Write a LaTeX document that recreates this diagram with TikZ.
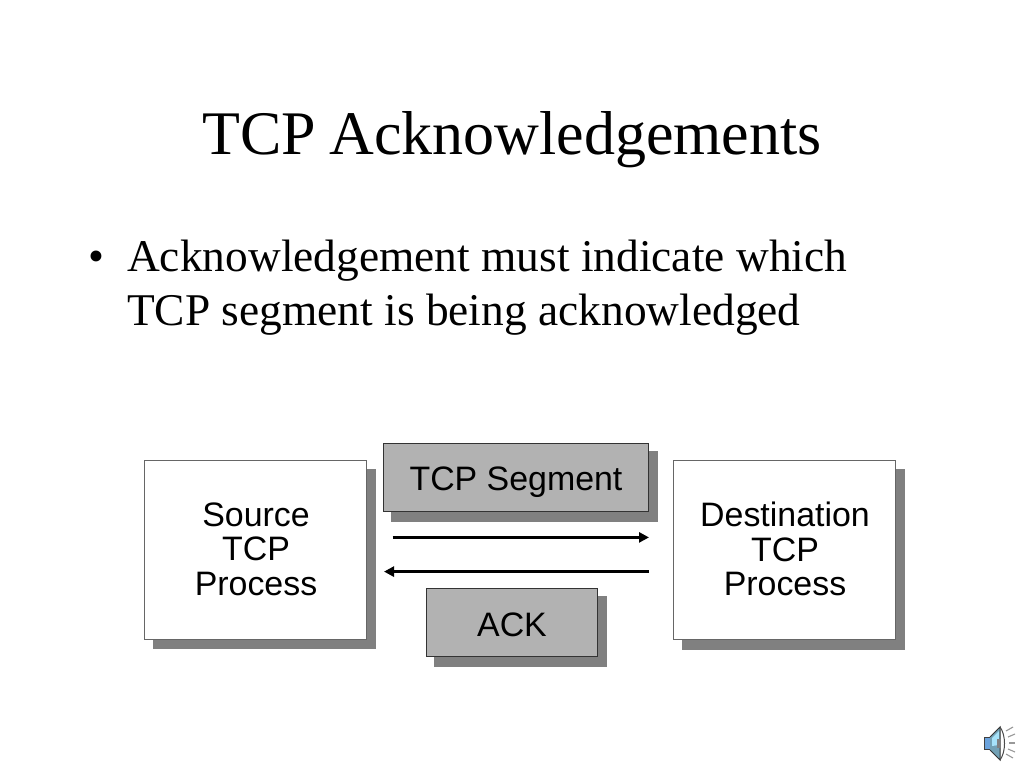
\documentclass[tikz,border=0pt]{standalone}
\usepackage{fontspec}
\setmainfont{Liberation Serif}
\newfontfamily\boxfont{Liberation Sans}
\usetikzlibrary{arrows.meta}
\definecolor{shadowgrey}{HTML}{808080}
\definecolor{fillgrey}{HTML}{B2B2B2}
\definecolor{edgegrey}{HTML}{333333}
\tikzset{
  x=1pt,y=-1pt,
  titletext/.style={anchor=base west,inner sep=0pt,font=\fontsize{62}{62}\selectfont},
  bodytext/.style={anchor=base west,inner sep=0pt,font=\fontsize{45.4}{45.4}\selectfont},
  boxlabel/.style={align=center,inner sep=0pt,font=\boxfont\fontsize{33.9}{34.5}\selectfont},
  proc/.style={draw=black!60,line width=1pt,fill=white},
  grey/.style={draw=edgegrey,line width=1pt,fill=fillgrey},
  shade/.style={fill=shadowgrey,draw=none},
  flow/.style={line width=3.2pt,-{Triangle[length=10pt,width=10pt]}},
}
\begin{document}
\begin{tikzpicture}
\useasboundingbox (0,0) rectangle (1024,768);
\fill[white] (0,0) rectangle (1024,768);
\node[titletext] (title) at (202,154.5) {TCP\hspace{-2pt} Acknowledgements};
\node[bodytext] (bullet) at (88,271) {•};
\node[bodytext] (l1) at (127,271) {Acknowledgement must indicate which};
\node[bodytext] (l2) at (127,325) {TCP segment is being acknowledged};
% shadows
\fill[shade] (153,469) rectangle (376,649);
\fill[shade] (682,469) rectangle (905,650);
\fill[shade] (391,451) rectangle (658,521.5);
\fill[shade] (434,596) rectangle (607,667);
% boxes
\draw[proc] (144.7,460.7) rectangle (366.8,639.8);
\draw[proc] (673.7,460.7) rectangle (895.8,639.8);
\draw[grey] (383.7,443.7) rectangle (648.5,511.8);
\draw[grey] (426.5,588.5) rectangle (597.5,656.8);
\node[boxlabel] (src) at (256,549) {Source\\TCP\\Process};
\node[boxlabel] (dst) at (785,549) {Destination\\TCP\\Process};
\node[boxlabel] (seg) at (516,482.5) {TCP Segment};
\node[boxlabel] (ack) at (512,624.5) {ACK};
% arrows
\coordinate (a1) at (392.5,537.4);
\coordinate (a2) at (649,537.4);
\coordinate (b1) at (649,571.6);
\coordinate (b2) at (384,571.6);
\draw[flow] (a1) -- (a2);
\draw[flow] (b1) -- (b2);
% speaker icon
\fill[black!75] (984,737) rectangle (992,750);
\fill[cyan!60!blue!60] (984.5,738) rectangle (991,749);
\fill[cyan!55!black!70] (990,737) -- (1000,727) -- (1000,760) -- (990,750) -- cycle;
\fill[cyan!35] (992,738) -- (999,731) -- (999,745) -- (992,746) -- cycle;
\draw[black!80,line width=1pt] (990,737) -- (1000,727) -- (1000,760) -- (990,750);
\fill[black!50] (997,739) rectangle (1001,748);
\draw[black!70,line width=1pt] (1000,727) .. controls (1006,735) and (1006,752) .. (1000,760);
\draw[black!40,line width=1.1pt] (1006,731) -- (1013,727);
\draw[black!40,line width=1.1pt] (1008,737) -- (1015,734);
\draw[black!40,line width=1.1pt] (1009,743) -- (1015,743);
\draw[black!40,line width=1.1pt] (1008,749) -- (1015,752);
\draw[black!40,line width=1.1pt] (1006,754) -- (1013,758);
\end{tikzpicture}
\end{document}
